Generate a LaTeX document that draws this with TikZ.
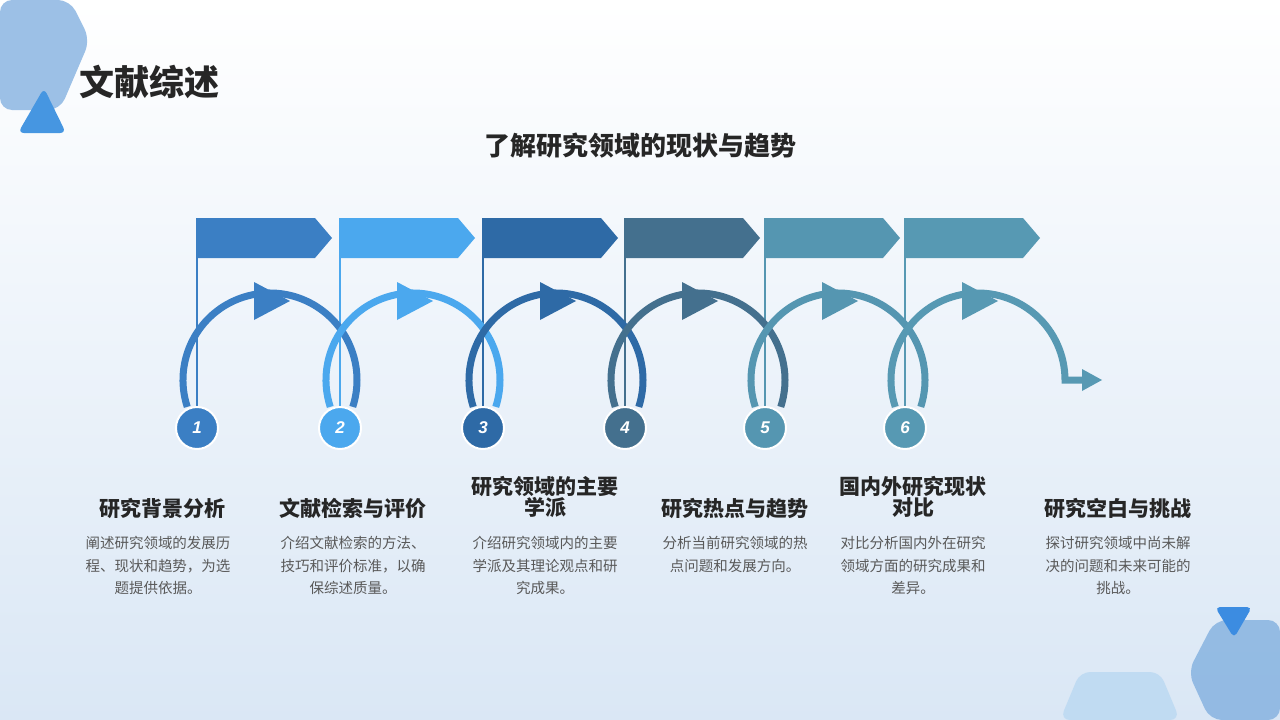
\documentclass[tikz,border=0pt]{standalone}
\usepackage{fontspec}
\setmainfont{Noto Sans CJK SC}
\newfontfamily\numf{Liberation Sans}
\XeTeXlinebreaklocale "zh"
\XeTeXlinebreakskip=0pt
\definecolor{cA}{HTML}{3B7FC4}
\definecolor{cB}{HTML}{4BA8EE}
\definecolor{cC}{HTML}{2E6AA6}
\definecolor{cD}{HTML}{44708E}
\definecolor{cE}{HTML}{5596B1}
\definecolor{cF}{HTML}{5799B3}
\definecolor{txt}{HTML}{262626}
\definecolor{dsc}{HTML}{595959}
\definecolor{bgb}{RGB}{218,231,245}
\definecolor{decA}{RGB}{140,182,226}
\definecolor{decB}{RGB}{70,150,225}
\definecolor{decC}{RGB}{190,218,242}
\definecolor{decD}{RGB}{60,140,225}
\tikzset{
 num/.style={circle,fill=#1,draw=white,line width=2pt,minimum size=42pt,inner sep=0pt,text=white,font=\numf\bfseries\itshape\fontsize{17}{17}\selectfont},
 ttl/.style={font=\bfseries\fontsize{21}{21}\selectfont,text=txt,align=center,text width=200pt},
 dsc/.style={font=\fontsize{14.5}{22.5}\selectfont,text=dsc,align=center,text width=170pt,anchor=north},
}
\begin{document}
\begin{tikzpicture}[x=1pt,y=-1pt]
\shade[top color=white,bottom color=bgb] (0,0) rectangle (1280,720);
\useasboundingbox (0,0) rectangle (1280,720);
% decorations
\fill[decA,opacity=0.85,rounded corners=12pt] (0,0) -- (70,0) -- (90,40) -- (60,110) -- (0,110) -- cycle;
\fill[decB,rounded corners=6pt] (18,133) -- (44,88) -- (66,133) -- cycle;
\fill[decA,opacity=0.9,rounded corners=12pt] (1280,620) -- (1215,620) -- (1188,672) -- (1210,720) -- (1280,720) -- cycle;
\fill[decC,opacity=0.9,rounded corners=10pt] (1060,720) -- (1080,672) -- (1160,672) -- (1180,720) -- cycle;
\fill[decD,rounded corners=5pt] (1215,607) -- (1252,607) -- (1234,638) -- cycle;
\node[font=\bfseries\fontsize{35}{35}\selectfont,text=txt,anchor=west] (head) at (76,82) {文献综述};
\node[font=\bfseries\fontsize{26}{26}\selectfont,text=txt] (sub) at (640,146) {了解研究领域的现状与趋势};
% units
\foreach \px/\c in {197/cA,340/cB,483/cC,625/cD,765/cE,905/cF}{
  \fill[\c] (\px,218) -- (\px+118,218) -- (\px+135,238) -- (\px+118,258) -- (\px,258) -- cycle;
  \draw[\c,line width=1.5pt] (\px,218) -- (\px,412);
}
\foreach \px/\c in {197/cA,340/cB,483/cC,625/cD,765/cE}{
  \draw[\c,line width=7pt] (\px+73,380) ++(162:87) arc(162:378:87);
  \fill[\c] (\px+57,282) -- (\px+93,301) -- (\px+57,320) -- cycle;
}
\draw[cF,line width=7pt] (978,380) ++(162:87) arc(162:360:87) -- (1065,380) -- (1085,380);
\fill[cF] (1082,369) -- (1102,380) -- (1082,391) -- cycle;
\fill[cF] (962,282) -- (998,301) -- (962,320) -- cycle;
\foreach \px/\c/\n in {197/cA/1,340/cB/2,483/cC/3,625/cD/4,765/cE/5,905/cF/6}{
  \node[num=\c] (n\n) at (\px,428) {\n};
}
% texts
\node[ttl] (t1) at (162,508) {研究背景分析};
\node[ttl] (t2) at (353,508) {文献检索与评价};
\node[ttl] (t3) at (545,497) {研究领域的主要\\学派};
\node[ttl] (t4) at (735,508) {研究热点与趋势};
\node[ttl] (t5) at (913,497) {国内外研究现状\\对比};
\node[ttl] (t6) at (1118,508) {研究空白与挑战};
\node[dsc] (d1) at (158,533) {阐述研究领域的发展历\\程、现状和趋势，为选\\题提供依据。};
\node[dsc] (d2) at (353,533) {介绍文献检索的方法、\\技巧和评价标准，以确\\保综述质量。};
\node[dsc] (d3) at (545,533) {介绍研究领域内的主要\\学派及其理论观点和研\\究成果。};
\node[dsc] (d4) at (735,533) {分析当前研究领域的热\\点问题和发展方向。};
\node[dsc] (d5) at (913,533) {对比分析国内外在研究\\领域方面的研究成果和\\差异。};
\node[dsc] (d6) at (1118,533) {探讨研究领域中尚未解\\决的问题和未来可能的\\挑战。};
\end{tikzpicture}
\end{document}
